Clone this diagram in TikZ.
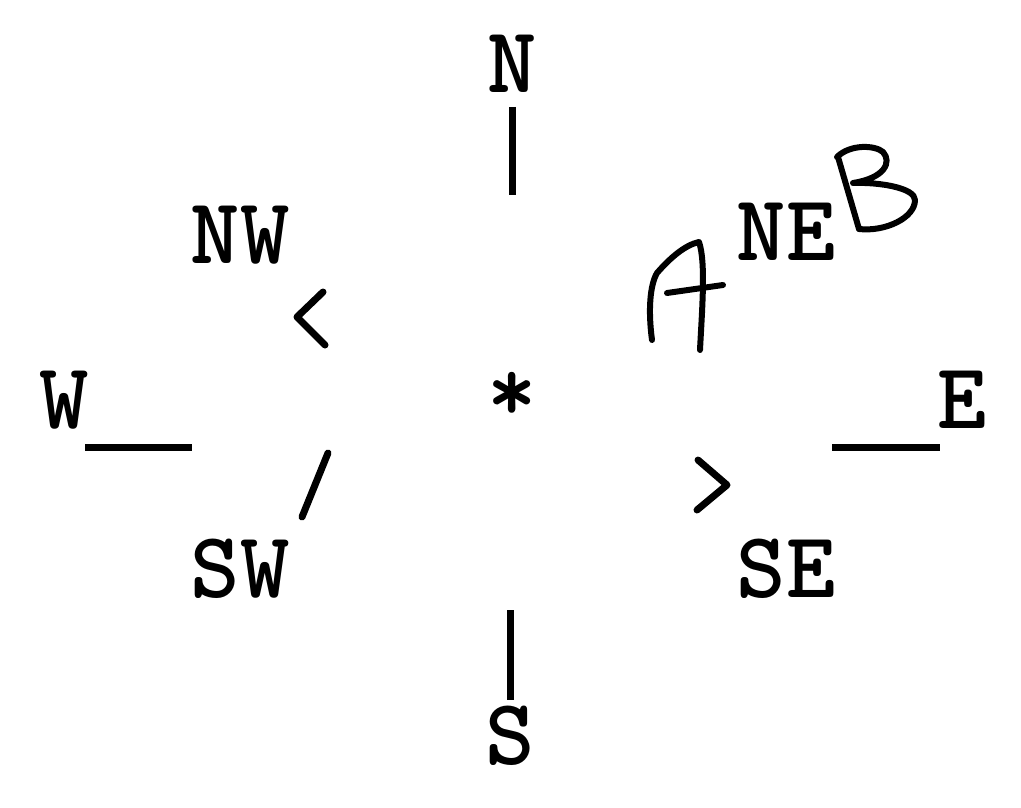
\documentclass[tikz,border=0pt]{standalone}
\usetikzlibrary{positioning}
\newcommand\typeface{\fontsize{94}{94}\selectfont\ttfamily\bfseries}

\begin{document}
\begin{tikzpicture}[x=1pt, y=-1pt,
  point/.style={inner sep=0pt, font=\typeface},
  bar/.style={line width=7pt},
  tick/.style={line width=7pt, line cap=round, line join=round},
  hand/.style={line width=6pt, line cap=round, line join=round}]
  \useasboundingbox (0,0) rectangle (1021,808);
  \node[point] (n)  at (512,64)  {N};
  \node[point] (nw) at (240,235) {NW};
  \node[point] (w)  at (64,400)  {W};
  \node[point] (ne) at (786,232) {NE};
  \node[point] (e)  at (962,400) {E};
  \node[point] (sw) at (240,569) {SW};
  \node[point] (se) at (786,569) {SE};
  \node[point] (s)  at (510,736) {S};
  \node[point, anchor=north] (star) at (512,372) {*};
  \coordinate (ntop) at (512,107);
  \coordinate (nbot) at (512,195);
  \coordinate (stop) at (510,610);
  \coordinate (sbot) at (510,700);
  \coordinate (wa) at (85,447);
  \coordinate (wb) at (192,447);
  \coordinate (ea) at (832,447);
  \coordinate (eb) at (940,447);
  \draw[bar] (ntop) -- (nbot);
  \draw[bar] (stop) -- (sbot);
  \draw[bar] (wa) -- (wb);
  \draw[bar] (ea) -- (eb);
  \draw[tick] (323,292) -- (297,317) -- (325,345);
  \draw[tick] (698,460) -- (727,485) -- (697,510);
  \draw[tick] (328,453) -- (302,517);
  % handwritten marks
  \draw[hand] (652,340) .. controls (648,310) and (650,285) .. (657,273)
    .. controls (670,258) and (685,245) .. (699,242)
    .. controls (706,262) and (702,310) .. (700,350);
  \draw[hand] (667,293) -- (723,285);
  \draw[hand] (838,157) -- (859,229);
  \draw[hand] (837,157) .. controls (850,144) and (875,145) .. (883,152)
    .. controls (892,162) and (885,178) .. (853,183)
    .. controls (880,182) and (915,188) .. (915,200)
    .. controls (915,218) and (885,232) .. (859,229);
\end{tikzpicture}
\end{document}
